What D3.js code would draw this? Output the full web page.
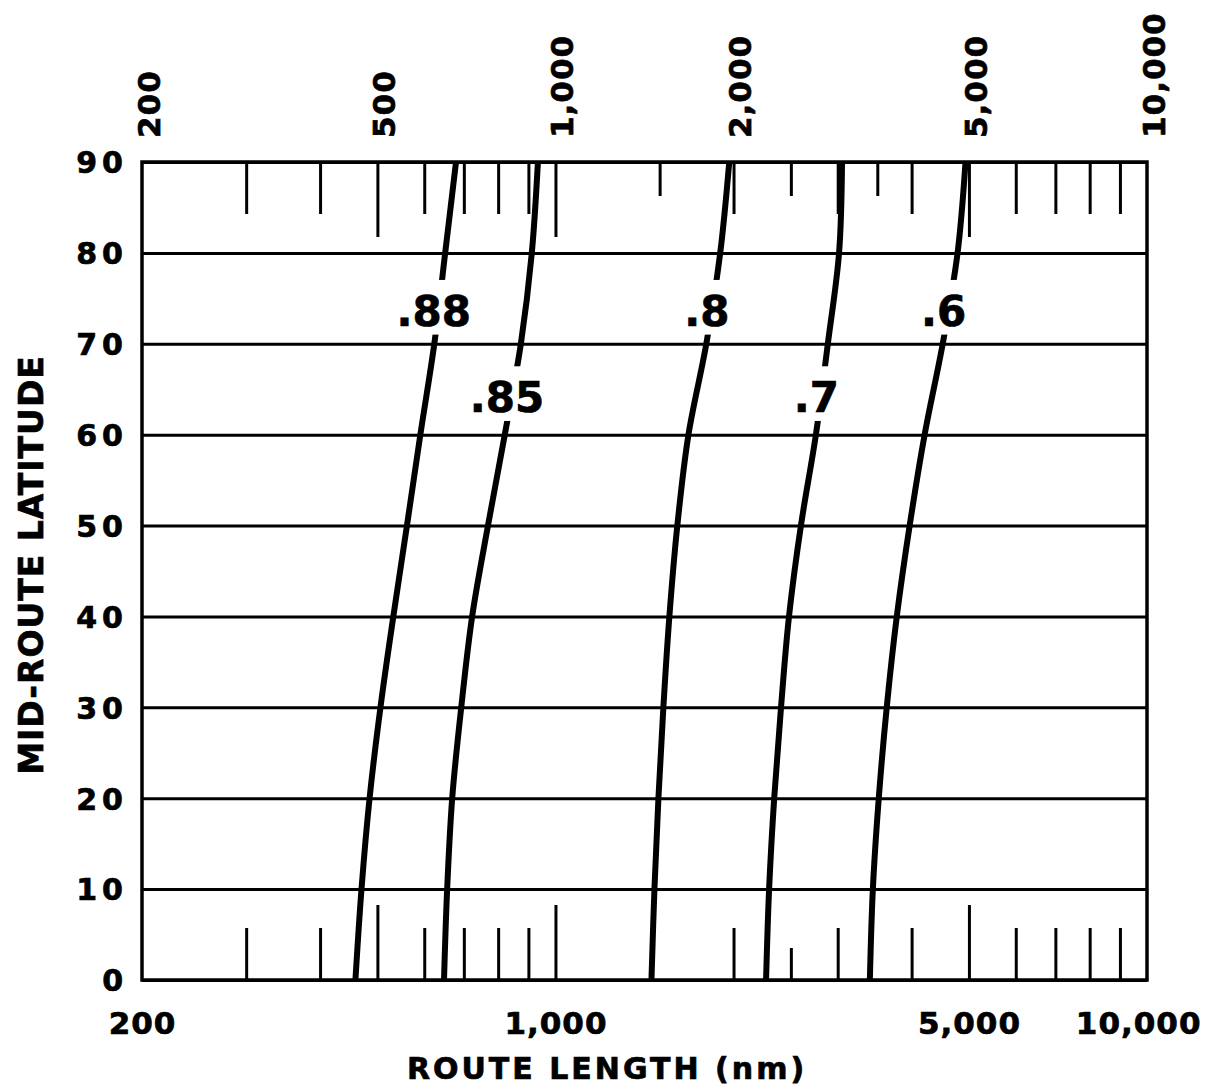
<!DOCTYPE html>
<html>
<head>
<meta charset="utf-8">
<script src="https://cdn.jsdelivr.net/npm/d3@7"></script>
<style>
  html, body { margin: 0; padding: 0; background: #fff; }
  svg { display: block; }
  text { font-family: "DejaVu Sans", sans-serif; font-weight: bold; fill: #000; stroke: #000; stroke-width: 0.7px; }
</style>
</head>
<body>
<svg id="chart" width="1215" height="1092"></svg>
<script>
// Mid-route latitude (degrees) at which each curve is tabulated
const latitudes = [0, 10, 20, 30, 40, 50, 60, 70, 80, 90];

// Route length (nm) along each curve, one value per latitude
const length88 = [459, 470, 485, 506, 532, 561, 591, 624, 651, 679];
const length85 = [648, 656, 669, 693, 723, 769, 821, 874, 912, 934];
const length80 = [1453, 1470, 1493, 1522, 1558, 1607, 1678, 1799, 1899, 1967];
const length70 = [2270, 2297, 2343, 2406, 2482, 2600, 2756, 2887, 3016, 3051];
const length60 = [3400, 3440, 3520, 3631, 3776, 3970, 4208, 4515, 4784, 4934];

const curveNames = [".88", ".85", ".8", ".7", ".6"];
const curveLengths = [length88, length85, length80, length70, length60];
// latitude of each curve label's baseline
const labelLatitudes = [72, 62.5, 72, 62.5, 72];

// axis ticks and labels
const latitudeTicks = [0, 10, 20, 30, 40, 50, 60, 70, 80, 90];
const topLabelValues = [200, 500, 1000, 2000, 5000, 10000];
const bottomLabelValues = [200, 1000, 5000, 10000];
const majorRuling = [500, 1000, 5000];
const topHalfRuling = [1500, 2500, 3500];
const bottomHalfRuling = [2500];
const minorRuling = [300, 400, 600, 700, 800, 900, 2000, 3000, 4000, 6000, 7000, 8000, 9000];

const svg = d3.select("#chart");
svg.append("rect").attr("width", 1215).attr("height", 1092).attr("fill", "#fff");

const plotLeft = 142, plotRight = 1147, plotTop = 162, plotBottom = 980;
const x = d3.scaleLog().domain([200, 10000]).range([plotLeft, plotRight]);
const y = d3.scaleLinear().domain([0, 90]).range([plotBottom, plotTop]);

// horizontal rulings + latitude labels
const yAxis = svg.append("g")
  .attr("transform", `translate(${plotLeft},0)`)
  .call(d3.axisLeft(y).tickValues(latitudeTicks).tickSize(-(plotRight - plotLeft)).tickPadding(14).tickFormat(d3.format("d")));
yAxis.select(".domain").remove();
yAxis.selectAll("line").attr("stroke", "#000").attr("stroke-width", 3);
yAxis.selectAll("text")
  .attr("font-size", 30).attr("letter-spacing", 5).attr("font-family", null)
  .attr("dy", "0.36em");

// tick marks along the top and bottom edges
function ruling(values, len, atTop) {
  const g = svg.append("g").attr("transform", `translate(0,${atTop ? plotTop : plotBottom})`)
    .call((atTop ? d3.axisTop(x) : d3.axisBottom(x)).tickValues(values).tickSize(-len).tickFormat(""));
  g.select(".domain").remove();
  g.selectAll("line").attr("stroke", "#000").attr("stroke-width", 3);
}
ruling(minorRuling, 52, true);
ruling(minorRuling, 52, false);
ruling(topHalfRuling, 34, true);
ruling(bottomHalfRuling, 32, false);
ruling(majorRuling, 75, true);
ruling(majorRuling, 75, false);

// frame
svg.append("rect")
  .attr("x", plotLeft).attr("y", plotTop)
  .attr("width", plotRight - plotLeft).attr("height", plotBottom - plotTop)
  .attr("fill", "none").attr("stroke", "#000").attr("stroke-width", 3.5);

// top labels, rotated
const topAxis = svg.append("g").attr("transform", `translate(0,${plotTop})`)
  .call(d3.axisTop(x).tickValues(topLabelValues).tickSize(0).tickFormat(d3.format(",")));
topAxis.select(".domain").remove();
topAxis.selectAll("text")
  .attr("transform", "rotate(-90)")
  .attr("x", 24).attr("y", 6).attr("dy", "0.36em")
  .attr("text-anchor", "start")
  .attr("font-size", 31).attr("letter-spacing", 1).attr("font-family", null);

// bottom labels
const botAxis = svg.append("g").attr("transform", `translate(0,${plotBottom})`)
  .call(d3.axisBottom(x).tickValues(bottomLabelValues).tickSize(0).tickPadding(32).tickFormat(d3.format(",")));
botAxis.select(".domain").remove();
botAxis.selectAll("text")
  .attr("font-size", 31).attr("letter-spacing", 1).attr("font-family", null);
botAxis.selectAll("text").filter(d => d === 10000)
  .attr("text-anchor", "end").attr("dx", 54);

// curves
const line = d3.line()
  .x(d => x(d.len))
  .y(d => y(d.lat))
  .curve(d3.curveCatmullRom.alpha(0.5));

const series = curveNames.map((name, i) => ({
  name,
  points: latitudes.map((lat, j) => ({ lat, len: curveLengths[i][j] })),
  labelLat: labelLatitudes[i]
}));

svg.append("g").selectAll("path").data(series).join("path")
  .attr("d", d => line(d.points))
  .attr("fill", "none").attr("stroke", "#000").attr("stroke-width", 6);

// route length along a curve at a given latitude (log-linear interpolation)
function lengthAt(points, lat) {
  for (let k = 0; k < points.length - 1; k++) {
    const a = points[k], b = points[k + 1];
    if (lat >= a.lat && lat <= b.lat) {
      const t = (lat - a.lat) / (b.lat - a.lat);
      return Math.exp(Math.log(a.len) + t * (Math.log(b.len) - Math.log(a.len)));
    }
  }
  return points[points.length - 1].len;
}

const labelSize = 42;
const labels = svg.append("g").selectAll("g").data(series).join("g")
  .attr("transform", d => `translate(${x(lengthAt(d.points, d.labelLat + 2))},${y(d.labelLat)})`);
labels.append("text")
  .attr("text-anchor", "middle").attr("dx", -5)
  .attr("font-size", labelSize)
  .text(d => d.name);
labels.each(function() {
  const g = d3.select(this);
  const bb = g.select("text").node().getBBox();
  g.insert("rect", "text")
    .attr("x", bb.x - 2).attr("width", bb.width + 4)
    .attr("y", -labelSize * 0.73 - 15).attr("height", labelSize * 0.73 + 24)
    .attr("fill", "#fff");
});

// axis titles
svg.append("text")
  .attr("transform", "translate(43,565) rotate(-90)")
  .attr("text-anchor", "middle")
  .attr("font-size", 33).attr("letter-spacing", 1)
  .text("MID-ROUTE LATITUDE");

svg.append("text")
  .attr("x", 607).attr("y", 1079)
  .attr("text-anchor", "middle")
  .attr("font-size", 30).attr("letter-spacing", 3)
  .text("ROUTE LENGTH (nm)");
</script>
</body>
</html>
